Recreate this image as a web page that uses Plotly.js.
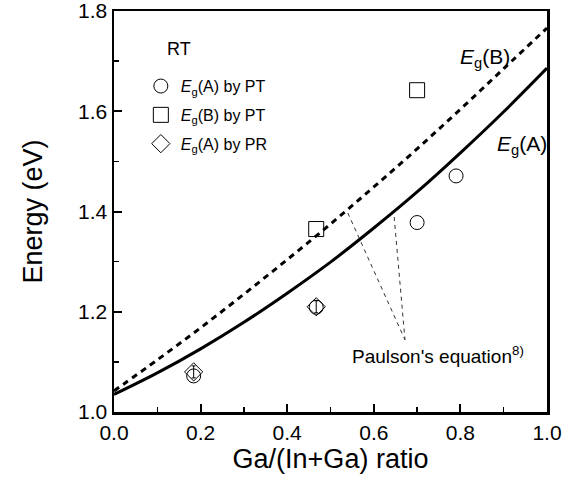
<!DOCTYPE html>
<html>
<head>
<meta charset="utf-8">
<script src="https://cdn.plot.ly/plotly-3.0.1.min.js"></script>
<style>html,body{margin:0;padding:0;background:#fff;}#chart{width:573px;height:483px;}</style>
</head>
<body>
<div id="chart"></div>
<script>
// Paulson's equation curves
const curveX = [0, 0.1, 0.2, 0.3, 0.4, 0.5, 0.6, 0.7, 0.8, 0.9, 1.0];
const egA_curve = [1.035, 1.078, 1.126, 1.179, 1.237, 1.299, 1.367, 1.439, 1.517, 1.599, 1.686];
const egB_curve = [1.042, 1.104, 1.168, 1.235, 1.304, 1.375, 1.449, 1.525, 1.604, 1.685, 1.766];

// Measured points
const ptA_x = [0.184, 0.467, 0.700, 0.790];
const ptA_y = [1.072, 1.209, 1.378, 1.471];
const ptB_x = [0.467, 0.700];
const ptB_y = [1.365, 1.642];
const prA_x = [0.184, 0.467];
const prA_y = [1.080, 1.210];
const prA_err = [0.012, 0.012];

// Leader lines for the "Paulson's equation" label
const leadStart_x = [0.540, 0.647];
const leadStart_y = [1.397, 1.389];
const leadEnd_x = 0.672, leadEnd_y = 1.144;

const FONT = 'Arial, "Liberation Sans", sans-serif';

const traces = [
  {x: curveX, y: egB_curve, mode: 'lines', line: {shape: 'spline', color: '#000', width: 3, dash: '6px,5px'}, showlegend: false, hoverinfo: 'skip'},
  {x: curveX, y: egA_curve, mode: 'lines', line: {shape: 'spline', color: '#000', width: 3}, showlegend: false, hoverinfo: 'skip'},
  {x: ptA_x, y: ptA_y, mode: 'markers', name: '<i>E</i><sub>g</sub>(A) by PT', legendgroup: 'a',
   marker: {symbol: 'circle-open', size: 14, color: '#000', line: {width: 1, color: '#000'}}},
  {x: ptB_x, y: ptB_y, mode: 'markers', name: '<i>E</i><sub>g</sub>(B) by PT', legendgroup: 'b',
   marker: {symbol: 'square-open', size: 15, color: '#000', line: {width: 1, color: '#000'}}},
  {x: prA_x, y: prA_y, mode: 'markers', name: '<i>E</i><sub>g</sub>(A) by PR', legendgroup: 'c',
   marker: {symbol: 'diamond-open', size: 14, color: '#000', line: {width: 1, color: '#000'}},
   error_y: {type: 'data', array: prA_err, visible: true, color: '#000', thickness: 1, width: 2}}
];

const shapes = leadStart_x.map((sx, i) => ({
  type: 'line', xref: 'x', yref: 'y', x0: sx, y0: leadStart_y[i], x1: leadEnd_x, y1: leadEnd_y,
  line: {color: '#333', width: 1, dash: '4px,4px'}
}));

const axisCommon = {
  showgrid: false, zeroline: false, showline: true, linecolor: '#000', linewidth: 2.5,
  mirror: true, ticks: 'inside', ticklen: 8, tickwidth: 2, tickcolor: '#000',
  ticklabeloverflow: 'allow',
  tickfont: {family: FONT, size: 21, color: '#000'}
};

const layout = {
  width: 573, height: 483,
  margin: {l: 114, r: 26, t: 11, b: 71},
  paper_bgcolor: '#fff', plot_bgcolor: '#fff',
  font: {family: FONT, color: '#000'},
  xaxis: Object.assign({}, axisCommon, {
    range: [0, 1.0], dtick: 0.2, tickformat: '.1f',
    minor: {ticks: 'inside', dtick: 0.1, ticklen: 5, tickwidth: 1.5, tickcolor: '#000'},
    title: {text: 'Ga/(In+Ga) ratio', font: {family: FONT, size: 27, color: '#000'}, standoff: 3}
  }),
  yaxis: Object.assign({}, axisCommon, {
    range: [1.0, 1.8], dtick: 0.2, tickformat: '.1f',
    minor: {ticks: 'inside', dtick: 0.1, ticklen: 5, tickwidth: 1.5, tickcolor: '#000'},
    title: {text: 'Energy (eV)', font: {family: FONT, size: 27, color: '#000'}, standoff: 28}
  }),
  showlegend: true,
  legend: {
    x: 0.062, y: 0.855, xanchor: 'left', yanchor: 'top',
    bgcolor: 'rgba(0,0,0,0)', borderwidth: 0, tracegroupgap: 5,
    font: {family: FONT, size: 16, color: '#000'}
  },
  shapes: shapes,
  annotations: [
    {xref: 'paper', yref: 'paper', x: 0.118, y: 0.905, xanchor: 'left', yanchor: 'middle', showarrow: false,
     text: 'RT', font: {family: FONT, size: 18, color: '#000'}},
    {xref: 'x', yref: 'y', x: 0.794, y: 1.706, xanchor: 'left', yanchor: 'middle', showarrow: false,
     text: '<i>E</i><sub>g</sub>(B)', font: {family: FONT, size: 21, color: '#000'}},
    {xref: 'x', yref: 'y', x: 0.880, y: 1.533, xanchor: 'left', yanchor: 'middle', showarrow: false,
     text: '<i>E</i><sub>g</sub>(A)', font: {family: FONT, size: 21, color: '#000'}},
    {xref: 'x', yref: 'y', x: 0.545, y: 1.114, xanchor: 'left', yanchor: 'middle', showarrow: false,
     text: "Paulson's equation<sup>8)</sup>", font: {family: FONT, size: 19, color: '#000'}}
  ]
};

Plotly.newPlot('chart', traces, layout, {displayModeBar: false, staticPlot: true});
</script>
</body>
</html>
